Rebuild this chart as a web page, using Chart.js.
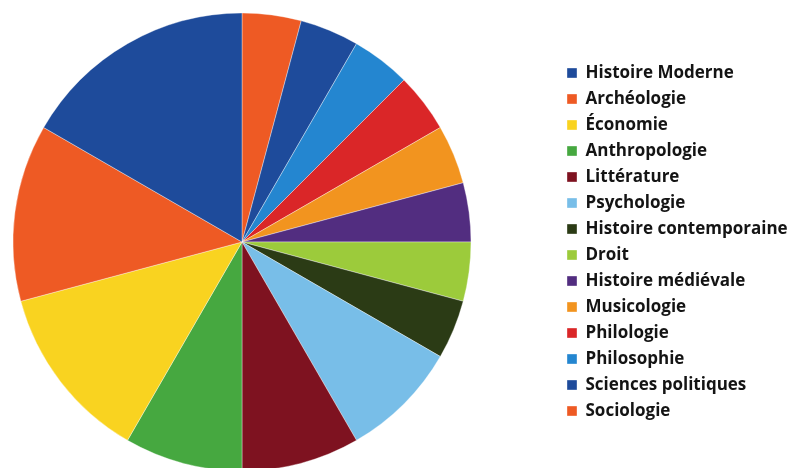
<!DOCTYPE html>
<html>
<head>
<meta charset="utf-8">
<script src="https://cdn.jsdelivr.net/npm/chart.js@4/dist/chart.umd.min.js"></script>
<style>
  html, body { margin: 0; padding: 0; background: #ffffff; overflow: hidden; }
  #wrap { position: relative; width: 792px; height: 468px; overflow: hidden; }
  #c { position: absolute; left: -74px; top: 0; }
</style>
</head>
<body>
<div id="wrap"><canvas id="c" width="880" height="468"></canvas></div>
<script>
// Categories in legend order (top to bottom)
const categories = [
  "Histoire Moderne", "Archéologie", "Économie", "Anthropologie", "Littérature",
  "Psychologie", "Histoire contemporaine", "Droit", "Histoire médiévale",
  "Musicologie", "Philologie", "Philosophie", "Sciences politiques", "Sociologie"
];
// Relative shares
const values = [4, 3, 3, 2, 2, 2, 1, 1, 1, 1, 1, 1, 1, 1];
const colors = [
  "#1E4B9B", "#EE5A24", "#F9D320", "#46A840", "#7E1220",
  "#78BEE8", "#2B3B15", "#9CCB3B", "#522D80",
  "#F2941F", "#DA2628", "#2486D0", "#1E4B9B", "#EE5A24"
];

// Slices run counter-clockwise in the reference, so feed them reversed
const drawLabels = categories.slice().reverse();
const drawValues = values.slice().reverse();
const drawColors = colors.slice().reverse();

// Layout: legend column should start at canvas x = 632 (page x 558)
const FONT = { family: "'Open Sans'", size: 17, weight: 'bold' };
const BOX = 10, LPAD = 9;
const canvas = document.getElementById('c');
const ctx0 = canvas.getContext('2d');
ctx0.font = FONT.weight + ' ' + FONT.size + 'px ' + FONT.family;
let maxText = 0;
categories.forEach(t => { maxText = Math.max(maxText, ctx0.measureText(t).width); });
const legendW = LPAD + BOX + FONT.size / 2 + maxText + 10;
const padRight = canvas.width - 632 - legendW;

new Chart(canvas, {
  type: 'pie',
  data: {
    labels: drawLabels,
    datasets: [{
      data: drawValues,
      backgroundColor: drawColors,
      borderColor: 'rgba(255,255,255,0.6)',
      borderWidth: 0.6,
      radius: 229
    }]
  },
  options: {
    responsive: false,
    animation: false,
    layout: { padding: { left: 0, right: padRight, top: 16, bottom: 0 } },
    plugins: {
      tooltip: { enabled: false },
      legend: {
        position: 'right',
        reverse: true,
        labels: {
          boxWidth: BOX,
          boxHeight: BOX,
          padding: LPAD,
          color: '#141414',
          font: FONT
        }
      }
    }
  }
});
</script>
</body>
</html>
